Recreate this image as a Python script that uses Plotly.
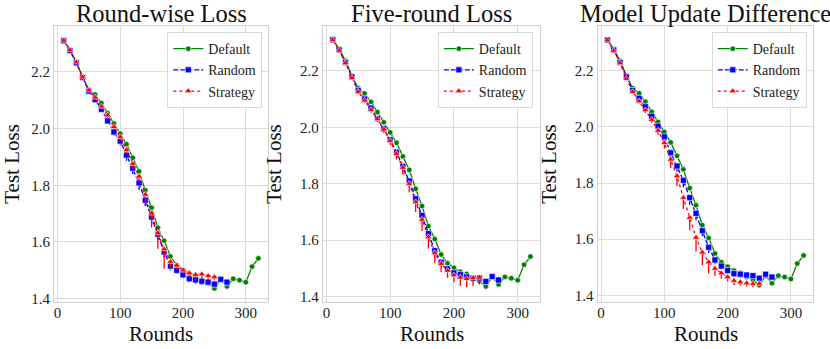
import plotly.graph_objects as go
from plotly.subplots import make_subplots

# ---- data ----
rounds_default = [10, 20, 30, 40, 50, 60, 70, 80, 90, 100, 110, 120, 130, 140, 150, 160,
                  170, 180, 190, 200, 210, 220, 230, 240, 250, 260, 270, 280, 290, 300, 310, 320]
rounds_random = [10, 20, 30, 40, 50, 60, 70, 80, 90, 100, 110, 120, 130, 140, 150, 160,
                 170, 180, 190, 200, 210, 220, 230, 240, 250, 260, 270]
rounds_strategy = [10, 20, 30, 40, 50, 60, 70, 80, 90, 100, 110, 120, 130, 140, 150, 160,
                   170, 180, 190, 200, 210, 220, 230, 240, 250]
rounds_strategy_p2 = rounds_strategy[:-1]

default_loss = [2.312, 2.278, 2.236, 2.183, 2.138, 2.120, 2.090, 2.054, 2.018, 1.982, 1.945,
                1.897, 1.849, 1.782, 1.721, 1.650, 1.604, 1.549, 1.518, 1.502, 1.488, 1.480,
                1.465, 1.455, 1.436, 1.469, 1.443, 1.470, 1.465, 1.458, 1.513, 1.542]

# Round-wise Loss
p1_random = [2.310, 2.275, 2.232, 2.180, 2.132, 2.102, 2.068, 2.027, 1.988, 1.956, 1.906,
             1.860, 1.808, 1.747, 1.688, 1.627, 1.565, 1.515, 1.500, 1.484, 1.470, 1.466,
             1.461, 1.458, 1.451, 1.468, 1.458]
p1_random_err = [0, 0, 0, 0, 0.005, 0.005, 0.008, 0.01, 0.012, 0.015, 0.02, 0.02, 0.025, 0.02,
                 0.025, 0.02, 0.02, 0.015, 0.012, 0.012, 0.012, 0.015, 0.012, 0.01, 0.01, 0.008, 0.008]
p1_strategy = [2.311, 2.277, 2.234, 2.181, 2.135, 2.110, 2.078, 2.047, 2.006, 1.970, 1.925,
               1.876, 1.831, 1.767, 1.701, 1.631, 1.575, 1.530, 1.517, 1.500, 1.490, 1.484,
               1.486, 1.480, 1.476]
p1_strategy_err = [0, 0, 0, 0, 0.005, 0.005, 0.008, 0.01, 0.01, 0.012, 0.015, 0.015, 0.02, 0.035,
                   0.05, 0.055, 0.07, 0.02, 0.015, 0.012, 0.015, 0.02, 0.018, 0.015, 0.012]

# Five-round Loss
p2_random = [2.310, 2.274, 2.230, 2.178, 2.130, 2.100, 2.068, 2.031, 1.995, 1.956, 1.912,
             1.862, 1.810, 1.747, 1.688, 1.623, 1.563, 1.522, 1.498, 1.484, 1.478, 1.470,
             1.465, 1.466, 1.454, 1.471, 1.459]
p2_random_err = [0, 0, 0, 0, 0.005, 0.005, 0.008, 0.01, 0.01, 0.012, 0.015, 0.02, 0.02, 0.02,
                 0.025, 0.02, 0.02, 0.015, 0.012, 0.012, 0.01, 0.012, 0.01, 0.01, 0.01, 0.008, 0.008]
p2_strategy = [2.309, 2.272, 2.228, 2.175, 2.126, 2.095, 2.062, 2.030, 1.992, 1.952, 1.906,
               1.857, 1.800, 1.735, 1.673, 1.611, 1.554, 1.516, 1.492, 1.476, 1.468, 1.463,
               1.466, 1.468]
p2_strategy_err = [0, 0, 0, 0, 0.005, 0.008, 0.01, 0.01, 0.012, 0.015, 0.02, 0.025, 0.03, 0.035,
                   0.04, 0.04, 0.035, 0.03, 0.025, 0.025, 0.03, 0.03, 0.028, 0.025]

# Model Update Difference
p3_random = [2.310, 2.274, 2.230, 2.178, 2.130, 2.102, 2.072, 2.038, 2.003, 1.965, 1.908,
             1.861, 1.810, 1.748, 1.692, 1.630, 1.571, 1.526, 1.504, 1.488, 1.477, 1.475,
             1.472, 1.470, 1.461, 1.475, 1.465]
p3_random_err = [0, 0, 0, 0, 0.005, 0.005, 0.008, 0.01, 0.012, 0.015, 0.02, 0.02, 0.025, 0.025,
                 0.025, 0.02, 0.02, 0.015, 0.012, 0.012, 0.012, 0.012, 0.01, 0.01, 0.01, 0.008, 0.008]
p3_strategy = [2.309, 2.272, 2.228, 2.172, 2.125, 2.092, 2.060, 2.026, 1.987, 1.943, 1.884,
               1.825, 1.748, 1.677, 1.606, 1.553, 1.518, 1.495, 1.479, 1.465, 1.452, 1.447,
               1.443, 1.441, 1.441]
p3_strategy_err = [0, 0, 0, 0, 0.005, 0.008, 0.01, 0.012, 0.015, 0.02, 0.03, 0.035, 0.04, 0.045,
                   0.05, 0.045, 0.04, 0.025, 0.02, 0.015, 0.015, 0.012, 0.012, 0.012, 0.01]

titles = ["Round-wise Loss", "Five-round Loss", "Model Update Difference"]
x_ticks = [0, 100, 200, 300]
y_ticks = [1.4, 1.6, 1.8, 2.0, 2.2]

FONT = "Liberation Serif, Times New Roman, serif"
GREEN, BLUE, RED = "#008000", "#0000ff", "#ff0000"

panels = [
    (rounds_random, p1_random, p1_random_err, rounds_strategy, p1_strategy, p1_strategy_err),
    (rounds_random, p2_random, p2_random_err, rounds_strategy_p2, p2_strategy, p2_strategy_err),
    (rounds_random, p3_random, p3_random_err, rounds_strategy, p3_strategy, p3_strategy_err),
]
y_ranges = [[1.388, 2.362], [1.381, 2.359], [1.376, 2.360]]
x_domains = [[0.065, 0.323], [0.389, 0.651], [0.720, 0.980]]
legend_right = [0.316, 0.642, 0.972]

fig = make_subplots(rows=1, cols=3)

for i, (rx, ry, rerr, sx, sy, serr) in enumerate(panels):
    col = i + 1
    leg = "legend" if i == 0 else f"legend{i + 1}"
    fig.add_trace(go.Scatter(
        x=rounds_default, y=default_loss, name="Default", mode="lines+markers",
        line=dict(color=GREEN, width=1.3),
        marker=dict(symbol="circle", size=5.5, color=GREEN, line=dict(color="white", width=0.6)),
        legend=leg,
    ), row=1, col=col)
    fig.add_trace(go.Scatter(
        x=rx, y=ry, name="Random", mode="lines+markers",
        line=dict(color=BLUE, width=1.3, dash="5px,2px"),
        marker=dict(symbol="square", size=6, color=BLUE, line=dict(color="white", width=0.6)),
        error_y=dict(type="data", symmetric=False, array=[0] * len(rerr), arrayminus=rerr,
                     color=BLUE, thickness=1.3, width=0),
        legend=leg,
    ), row=1, col=col)
    fig.add_trace(go.Scatter(
        x=sx, y=sy, name="Strategy", mode="lines+markers",
        line=dict(color=RED, width=1.3, dash="dot"),
        marker=dict(symbol="triangle-up", size=6.5, color=RED, line=dict(color="white", width=0.6)),
        error_y=dict(type="data", symmetric=False, array=[0] * len(serr), arrayminus=serr,
                     color=RED, thickness=1.3, width=0),
        legend=leg,
    ), row=1, col=col)

    fig.update_xaxes(domain=x_domains[i], range=[-5.5, 335.5], tickvals=x_ticks, row=1, col=col)
    fig.update_yaxes(
        domain=[0, 1], range=y_ranges[i], tickvals=y_ticks, tickformat=".1f",
        title=dict(text="Test Loss", font=dict(size=21, family=FONT, color="#111111"), standoff=12),
        row=1, col=col,
    )
    mid = sum(x_domains[i]) / 2
    fig.add_annotation(
        text=titles[i], xref="paper", yref="paper",
        x=mid, y=1.044, xanchor="center", yanchor="middle",
        showarrow=False, font=dict(size=24.5, family=FONT, color="#111111"),
    )
    # x axis title
    fig.add_annotation(
        text="Rounds", xref="paper", yref="paper",
        x=mid, y=-0.117, xanchor="center", yanchor="middle",
        showarrow=False, font=dict(size=21, family=FONT, color="#111111"),
    )

legend_style = dict(
    xanchor="right", yanchor="top", y=0.978,
    bgcolor="rgba(255,255,255,0.85)", bordercolor="#d9d9d9", borderwidth=1,
    font=dict(size=14, family=FONT, color="#222222"), tracegroupgap=0,
)
fig.update_layout(
    legend=dict(x=legend_right[0], **legend_style),
    legend2=dict(x=legend_right[1], **legend_style),
    legend3=dict(x=legend_right[2], **legend_style),
)

fig.update_xaxes(
    showgrid=True, gridcolor="#dcdcdc", gridwidth=1, zeroline=False,
    showline=True, linecolor="#d0d0d0", linewidth=1, mirror=True, automargin=False,
    ticks="", ticklabelstandoff=-3, tickfont=dict(size=15, family=FONT, color="#222222"),
)
fig.update_yaxes(
    showgrid=True, gridcolor="#dcdcdc", gridwidth=1, zeroline=False,
    showline=True, linecolor="#d0d0d0", linewidth=1, mirror=True, automargin=False,
    ticks="", tickfont=dict(size=15, family=FONT, color="#222222"),
)

fig.update_layout(
    width=830, height=349,
    margin=dict(l=0, r=0, t=26, b=47),
    plot_bgcolor="white", paper_bgcolor="white",
    font=dict(family=FONT),
    showlegend=True,
)

# drop the default 8px page margin so the figure fills the window exactly
fig.write_html(
    "out.html",
    config={"displayModeBar": False},
    post_script="document.body.style.margin = '0';",
)
